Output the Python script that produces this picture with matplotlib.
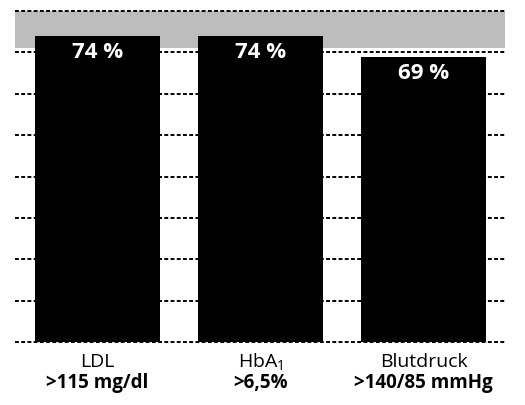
import matplotlib.pyplot as plt

plt.rcParams['font.family'] = ['Open Sans', 'DejaVu Sans']

# Daten
kategorien = ["LDL", "HbA$_\\mathregular{1}$", "Blutdruck"]
grenzwerte = [">115 mg/dl", ">6,5%", ">140/85 mmHg"]
anteile = [74, 74, 69]
y_ticks = [0, 10, 20, 30, 40, 50, 60, 70, 80]

fig = plt.figure(figsize=(5.25, 4.05), dpi=100)
ax = fig.add_axes([15 / 525, 1 - 342 / 405, 490 / 525, 331 / 405])

x = range(len(anteile))
ax.axhspan(71, 80, color="#bdbdbd", zorder=0, lw=0)
for y in y_ticks:
    ax.axhline(y, color="black", ls=(0, (2, 1.2)), lw=1.4, zorder=1, clip_on=False)

balken = ax.bar(x, anteile, width=0.77, color="black", zorder=2)
for b, v in zip(balken, anteile):
    ax.text(b.get_x() + b.get_width() / 2, v - 4.0, f"{v} %", color="white",
            ha="center", va="center", fontsize=16, fontweight="bold", zorder=3)

ax.set_xlim(-0.505, 2.5)
ax.set_ylim(0, 80)
ax.set_xticks([])
ax.set_yticks([])
for s in ax.spines.values():
    s.set_visible(False)

for i in x:
    ax.text(i, -4.8, kategorien[i], ha="center", va="center", fontsize=14,
            clip_on=False)
    ax.text(i, -10.0, grenzwerte[i], ha="center", va="center", fontsize=13.5,
            fontweight="bold", clip_on=False)

fig.savefig("out.png", dpi=100)
